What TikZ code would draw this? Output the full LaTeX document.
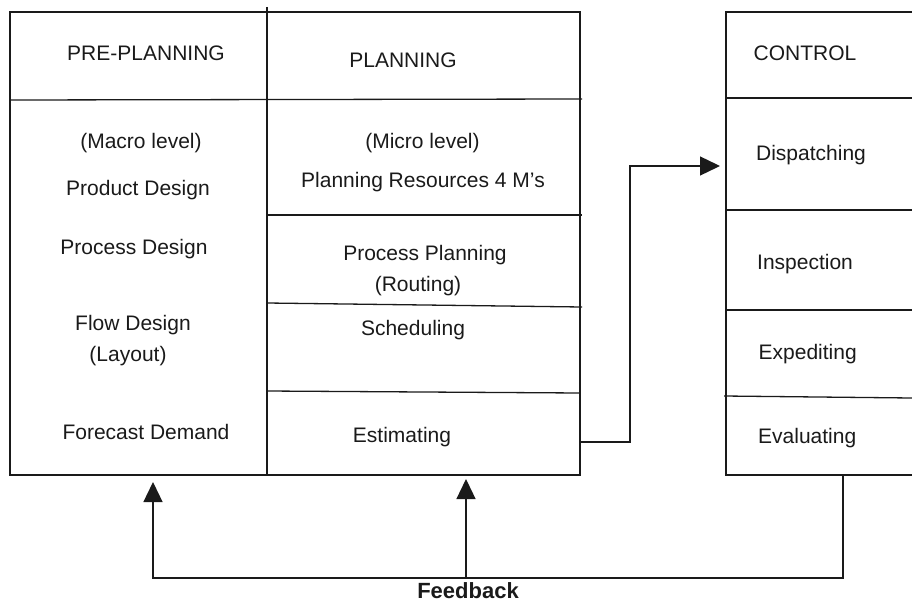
\documentclass[tikz,border=0pt]{standalone}
\usepackage{fontspec}
\setmainfont{Liberation Sans}
\usetikzlibrary{arrows.meta}
\definecolor{ink}{HTML}{1A1A1A}
\begin{document}
\begin{tikzpicture}[x=1pt,y=-1pt, line width=1.3pt, draw=ink,
  lbl/.style={inner sep=0pt, text height=15pt, text depth=0pt, text=ink, font=\fontsize{21}{25}\selectfont},
  lft/.style={lbl, anchor=west},
  arr/.style={-{Triangle[length=20pt,width=19pt]}}]
\useasboundingbox (0,0) rectangle (912,602);
% left (pre-planning / planning) frame
\draw (10,12) rectangle (580,475);
\draw (267,7) -- (267,475);
\draw (10,100) -- (582,99);
\draw (267,215) -- (582,215);
\draw (267,303) -- (582,307);
\draw (267,391) -- (580,393);
% control frame
\draw (912,12) -- (726,12) -- (726,475) -- (912,475);
\draw (726,98) -- (912,98);
\draw (726,210) -- (912,210);
\draw (726,310) -- (912,310);
\draw (724,396) -- (912,398);
% texts
\node[lbl] (pre) at (146,53) {PRE-PLANNING};
\node[lbl] (macro) at (141,141) {(Macro level)};
\node[lbl] (prod) at (138,188) {Product Design};
\node[lbl] (proc) at (134,247) {Process Design};
\node[lbl] (flow) at (133,323) {Flow Design};
\node[lbl] (layout) at (128,354) {(Layout)};
\node[lbl] (fore) at (146,432) {Forecast Demand};
\node[lbl] (plan) at (403,60) {PLANNING};
\node[lbl] (micro) at (422.5,141) {(Micro level)};
\node[lbl] (res) at (423,180) {Planning Resources 4 M’s};
\node[lbl] (pplan) at (425,253) {Process Planning};
\node[lbl] (rout) at (418,284) {(Routing)};
\node[lbl] (sched) at (413,328) {Scheduling};
\node[lbl] (est) at (402,435) {Estimating};
\node[lft] (ctrl) at (753,53) {CONTROL};
\node[lft] (disp) at (755.5,153) {Dispatching};
\node[lft] (insp) at (756.5,262) {Inspection};
\node[lft] (exped) at (758,352) {Expediting};
\node[lft] (eval) at (757.5,436) {Evaluating};
\node[lbl, font=\bfseries\fontsize{22}{26}\selectfont, text height=16pt] (fb) at (468,590) {Feedback};
% connectors
\coordinate (estR) at (580,442);
\coordinate (dispL) at (720,166);
\coordinate (ctrlB) at (843,475);
\coordinate (preB) at (153,482);
\coordinate (planB) at (466,479);
\coordinate (fbM) at (466,578);
\draw[arr] (estR) -- (630,442) |- (dispL);
\draw[arr] (ctrlB) -- (843,578) -| (preB);
\draw[arr] (fbM) -- (planB);
\end{tikzpicture}
\end{document}
